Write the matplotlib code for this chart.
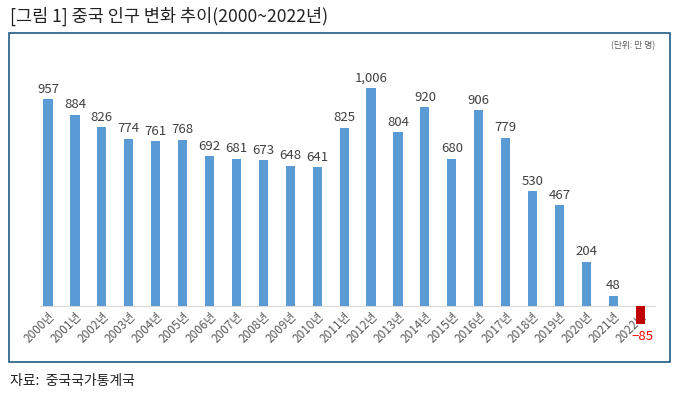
import matplotlib.pyplot as plt
from matplotlib.patches import Rectangle

plt.rcParams['font.family'] = ['Noto Sans CJK KR', 'DejaVu Sans']

# 데이터
years = [f'{y}년' for y in range(2000, 2023)]
values = [957, 884, 826, 774, 761, 768, 692, 681, 673, 648, 641, 825,
          1006, 804, 920, 680, 906, 779, 530, 467, 204, 48, -85]

title = '[그림 1] 중국 인구 변화 추이(2000~2022년)'
unit = '(단위: 만 명)'
source = '자료:  중국국가통계국'

fig = plt.figure(figsize=(6.76, 3.94), dpi=100)
W, H = 676, 394

# 바깥 틀
fig.patches.append(Rectangle((9 / W, 1 - 362 / H), 661 / W, 329 / H,
                             transform=fig.transFigure, fill=False,
                             edgecolor='#1F5C85', lw=1.2))

fig.text(10 / W, 1 - 16 / H, title, fontsize=12.6, color='#222222',
         ha='left', va='center')
fig.text(655 / W, 1 - 46 / H, unit, fontsize=6.3, color='#595959',
         ha='right', va='center')
fig.text(10 / W, 1 - 381 / H, source, fontsize=10, color='#222222',
         ha='left', va='center')

ax = fig.add_axes([40 / W, 1 - 338.4 / H, 615 / W, 259.5 / H])
x = list(range(len(values)))
colors = ['#5B9BD5' if v >= 0 else '#C00000' for v in values]
ax.bar(x, values, width=0.34, color=colors, zorder=2)

for i, v in enumerate(values):
    if v >= 0:
        ax.text(i, v + 16, f'{v:,}', ha='center', va='bottom',
                fontsize=9.5, color='#404040')
    else:
        ax.text(i + 0.08, v - 26, f'\u2212{abs(v)}', ha='center', va='top',
                fontsize=9.5, color='#FF0000', zorder=3)

# 기준선 (0 위치)
for s in ax.spines.values():
    s.set_visible(False)
ax.spines['bottom'].set_visible(True)
ax.spines['bottom'].set_position(('data', 0))
ax.spines['bottom'].set_color('#D9D9D9')
ax.spines['bottom'].set_zorder(1)

ax.set_xlim(-0.3, 22.55)
ax.set_ylim(-150, 1050)
ax.set_xticks(x)
ax.set_xticklabels(years, rotation=45, ha='right', rotation_mode='anchor',
                   fontsize=8.5, color='#595959')
ax.tick_params(axis='x', length=0, pad=3)
ax.set_yticks([])

fig.savefig('out.png', dpi=100)
